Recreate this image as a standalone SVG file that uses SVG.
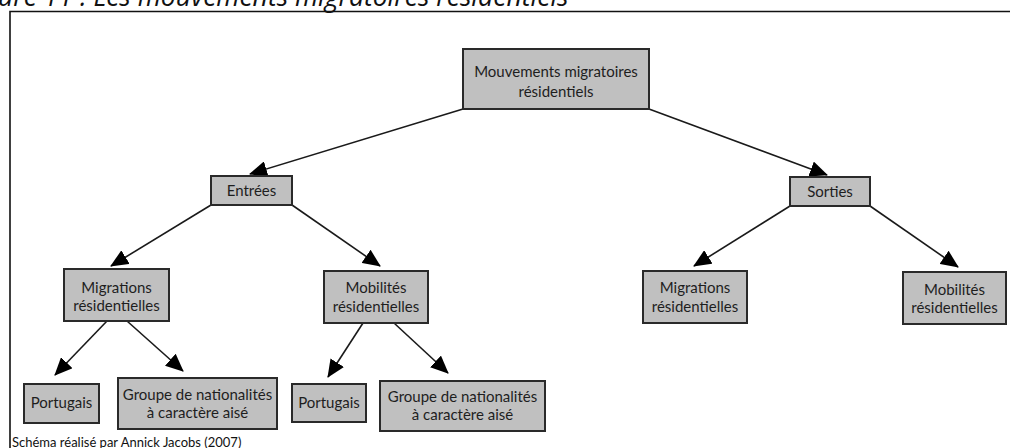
<svg xmlns="http://www.w3.org/2000/svg" width="1010" height="448" viewBox="0 0 1010 448">
  <style>
    .box { fill: #c0c0c0; stroke: #2a2a2a; stroke-width: 2; }
    .lbl { font-family: Lato, "Open Sans", "Liberation Sans", sans-serif; font-size: 15px; fill: #1e1e1e; text-anchor: middle; }
    .edge { stroke: #1a1a1a; stroke-width: 1.6; fill: none; marker-end: url(#arrow); }
    .frame { stroke: #111; stroke-width: 1.6; fill: none; }
  </style>
  <defs>
    <marker id="arrow" markerUnits="userSpaceOnUse" markerWidth="18" markerHeight="16" viewBox="0 0 18 16" refX="17" refY="8" orient="auto">
      <path d="M0,0 L18,8 L0,16 Z" fill="#000"/>
    </marker>
  </defs>
  <rect width="1010" height="448" fill="#fff"/>

  <!-- caption, cut by the top edge -->
  <text x="-2" y="6" font-family="'Open Sans', 'Noto Sans', sans-serif" font-style="italic" font-size="26.5" fill="#111">ure 11 : Les mouvements migratoires résidentiels</text>

  <!-- frame -->
  <path class="frame" d="M10,448 V11.5 H1010"/>

  <!-- connectors -->
  <g id="connectors">
    <line class="edge" x1="463" y1="109" x2="250" y2="174"/>
    <line class="edge" x1="649" y1="109" x2="827" y2="175"/>
    <line class="edge" x1="211" y1="205" x2="111" y2="266"/>
    <line class="edge" x1="292" y1="205" x2="380" y2="266"/>
    <line class="edge" x1="790" y1="206" x2="694" y2="266"/>
    <line class="edge" x1="870" y1="206" x2="958" y2="267"/>
    <line class="edge" x1="107" y1="321" x2="55" y2="375"/>
    <line class="edge" x1="127" y1="321" x2="183" y2="371"/>
    <line class="edge" x1="363" y1="323" x2="328" y2="377"/>
    <line class="edge" x1="394" y1="323" x2="448" y2="373"/>
  </g>

  <g id="root">
    <rect class="box" x="463" y="49" width="186" height="60"/>
    <text class="lbl" x="556" y="77">Mouvements migratoires</text>
    <text class="lbl" x="556" y="97">résidentiels</text>
  </g>

  <g id="entrees">
    <rect class="box" x="211" y="176" width="81" height="29"/>
    <text class="lbl" x="251.5" y="196">Entrées</text>
  </g>

  <g id="sorties">
    <rect class="box" x="790" y="177" width="80" height="29"/>
    <text class="lbl" x="830" y="197">Sorties</text>
  </g>

  <g id="entrees-migrations">
    <rect class="box" x="64" y="269" width="105" height="52"/>
    <text class="lbl" x="116.5" y="293">Migrations</text>
    <text class="lbl" x="116.5" y="311">résidentielles</text>
  </g>

  <g id="entrees-mobilites">
    <rect class="box" x="324" y="271" width="104" height="52"/>
    <text class="lbl" x="376" y="293">Mobilités</text>
    <text class="lbl" x="376" y="312">résidentielles</text>
  </g>

  <g id="sorties-migrations">
    <rect class="box" x="643" y="271" width="104" height="52"/>
    <text class="lbl" x="695" y="293">Migrations</text>
    <text class="lbl" x="695" y="312">résidentielles</text>
  </g>

  <g id="sorties-mobilites">
    <rect class="box" x="903" y="272" width="103" height="52"/>
    <text class="lbl" x="954.5" y="295">Mobilités</text>
    <text class="lbl" x="954.5" y="313">résidentielles</text>
  </g>

  <g id="migrations-portugais">
    <rect class="box" x="24" y="384" width="75" height="39"/>
    <text class="lbl" x="61.5" y="408">Portugais</text>
  </g>

  <g id="migrations-groupe">
    <rect class="box" x="118" y="378" width="159" height="51"/>
    <text class="lbl" x="197.5" y="400">Groupe de nationalités</text>
    <text class="lbl" x="197.5" y="418">à caractère aisé</text>
  </g>

  <g id="mobilites-portugais">
    <rect class="box" x="292" y="384" width="74" height="38"/>
    <text class="lbl" x="329" y="408">Portugais</text>
  </g>

  <g id="mobilites-groupe">
    <rect class="box" x="380" y="381" width="165" height="50"/>
    <text class="lbl" x="462.5" y="402">Groupe de nationalités</text>
    <text class="lbl" x="462.5" y="420">à caractère aisé</text>
  </g>

  <!-- credit line, cut by the bottom edge -->
  <text x="12" y="447" font-family="Lato, 'Open Sans', sans-serif" font-size="13" fill="#111">Schéma réalisé par Annick Jacobs (2007)</text>
</svg>
